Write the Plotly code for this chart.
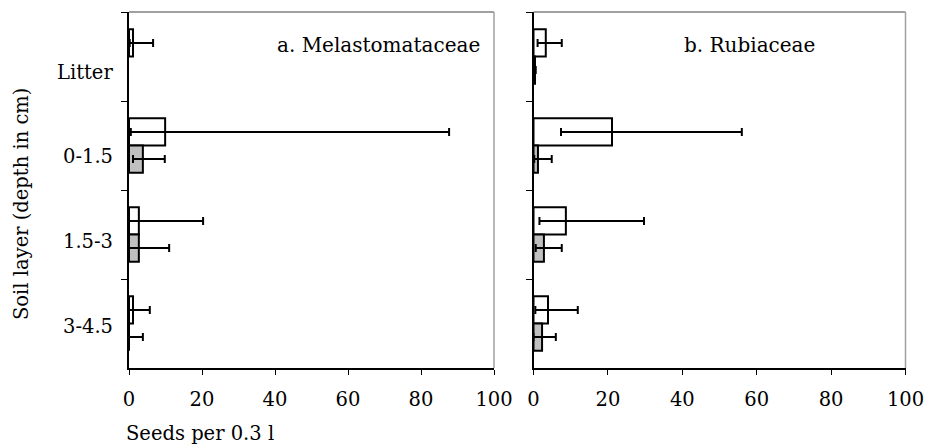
import plotly.graph_objects as go
from plotly.subplots import make_subplots

categories = ["Litter", "0-1.5", "1.5-3", "3-4.5"]

# a. Melastomataceae
mel_open = [1.1, 9.9, 2.7, 1.1]
mel_open_hi = [6.6, 87.7, 20.3, 5.7]
mel_open_lo = [0.2, 0.5, 0.0, 0.0]
mel_grey = [None, 3.8, 2.7, 0.0]
mel_grey_hi = [None, 9.8, 11.0, 3.8]
mel_grey_lo = [None, 1.1, 0.0, 0.0]

# b. Rubiaceae
rub_open = [3.3, 21.1, 8.7, 3.9]
rub_open_hi = [7.6, 56.0, 29.7, 11.9]
rub_open_lo = [1.1, 7.4, 1.6, 0.5]
rub_grey = [0.4, 1.2, 2.8, 2.3]
rub_grey_hi = [0.6, 4.9, 7.6, 6.0]
rub_grey_lo = [0.2, 0.2, 0.6, 0.0]

x_ticks = [0, 20, 40, 60, 80, 100]

FONT = "DejaVu Serif"
FS = 19.5

# small vertical nudges (px) of the category labels, as in the source figure
label_shift = [-16, -11, -7, -3]


def err(vals, hi, lo):
    plus = [None if v is None else h - v for v, h in zip(vals, hi)]
    minus = [None if v is None else v - l for v, l in zip(vals, lo)]
    return dict(type="data", symmetric=False, array=plus, arrayminus=minus,
                color="black", thickness=2, width=4)


fig = make_subplots(rows=1, cols=2, horizontal_spacing=0.04)


def add_pair(col, ov, ohi, olo, gv, ghi, glo):
    fig.add_trace(go.Bar(y=categories, x=ov, orientation="h",
                         marker=dict(color="white", line=dict(color="black", width=2)),
                         error_x=err(ov, ohi, olo), showlegend=False), row=1, col=col)
    fig.add_trace(go.Bar(y=categories, x=gv, orientation="h",
                         marker=dict(color="#c0c0c0", line=dict(color="black", width=2)),
                         error_x=err(gv, ghi, glo), showlegend=False), row=1, col=col)


add_pair(1, mel_open, mel_open_hi, mel_open_lo, mel_grey, mel_grey_hi, mel_grey_lo)
add_pair(2, rub_open, rub_open_hi, rub_open_lo, rub_grey, rub_grey_hi, rub_grey_lo)

W, H = 925, 445
xdom1 = [129 / W, 494 / W]
xdom2 = [533.5 / W, 905.5 / W]
ydom = [1 - 368 / H, 1 - 12 / H]

xaxis_common = dict(range=[0, 100], tickvals=x_ticks, ticks="outside", ticklen=5,
                    tickcolor="black", showline=True, linecolor="black", linewidth=1.5,
                    showgrid=False, zeroline=False, automargin=False,
                    ticklabelstandoff=8,
                    tickfont=dict(family=FONT, size=FS, color="black"))
yaxis_common = dict(categoryorder="array", categoryarray=categories, autorange="reversed",
                    ticks="outside", ticklen=6, tickcolor="black", tickson="boundaries",
                    showline=True, linecolor="black", linewidth=1.5, showgrid=False,
                    showticklabels=False, automargin=False)

fig.update_layout(
    width=W, height=H, margin=dict(l=0, r=0, t=0, b=0),
    paper_bgcolor="white", plot_bgcolor="white",
    barmode="group", bargap=0.39, bargroupgap=0,
    font=dict(family=FONT, size=FS, color="black"),
    xaxis=dict(domain=xdom1, **xaxis_common),
    xaxis2=dict(domain=xdom2, **xaxis_common),
    yaxis=dict(domain=ydom, **yaxis_common),
    yaxis2=dict(domain=ydom, **yaxis_common),
)

# category labels on the left axis
for cat, dy in zip(categories, label_shift):
    fig.add_annotation(text=cat, xref="paper", yref="y", x=115 / W, y=cat,
                       xanchor="right", yanchor="middle", yshift=dy,
                       showarrow=False, font=dict(family=FONT, size=FS))

# grey top/right frame lines
for xr, yr in [("x domain", "y domain"), ("x2 domain", "y2 domain")]:
    fig.add_shape(type="line", xref=xr, yref=yr, x0=0, x1=1, y0=1, y1=1,
                  line=dict(color="#808080", width=1.5))
    fig.add_shape(type="line", xref=xr, yref=yr, x0=1, x1=1, y0=0, y1=1,
                  line=dict(color="#a0a0a0", width=1.5))

fig.add_annotation(text="a. Melastomataceae", xref="paper", yref="paper",
                   x=482 / W, y=1 - 45 / H, xanchor="right", yanchor="middle",
                   showarrow=False, font=dict(family=FONT, size=20))
fig.add_annotation(text="b. Rubiaceae", xref="paper", yref="paper",
                   x=817 / W, y=1 - 45 / H, xanchor="right", yanchor="middle",
                   showarrow=False, font=dict(family=FONT, size=20))
fig.add_annotation(text="Soil layer (depth in cm)", xref="paper", yref="paper",
                   x=22 / W, y=1 - 204 / H, xanchor="center", yanchor="middle",
                   textangle=-90, showarrow=False, font=dict(family=FONT, size=FS))
fig.add_annotation(text="Seeds per 0.3 l", xref="paper", yref="paper",
                   x=124 / W, y=1 - 433 / H, xanchor="left", yanchor="middle",
                   showarrow=False, font=dict(family=FONT, size=FS))

fig.write_html("out.html")
